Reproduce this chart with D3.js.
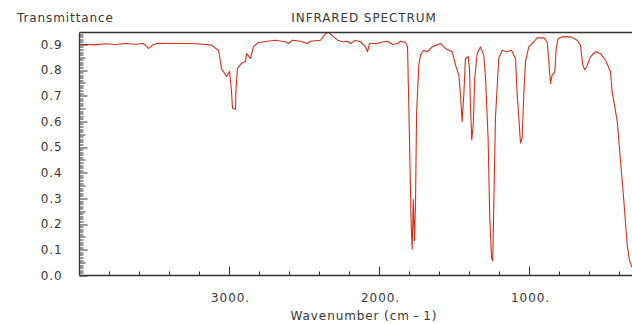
<!DOCTYPE html>
<html>
<head>
<meta charset="utf-8">
<script src="https://d3js.org/d3.v7.min.js"></script>
<style>
  body { margin: 0; background: #fff; }
  text { font-family: "DejaVu Sans", sans-serif; fill: #383838; letter-spacing: 0.9px; }
</style>
</head>
<body>
<svg id="drawing_region"></svg>
<script>
// spectrum (cm-1, transmittance)
const wavenumber = [
  4000, 3893, 3827, 3760, 3693, 3627, 3573, 3540, 3513, 3480, 3393, 3260, 3173,
  3120, 3073, 3053, 3020, 3000, 2987, 2980, 2960, 2957, 2947, 2920, 2893, 2887, 2860, 2840, 2807,
  2747, 2693, 2627, 2607, 2580, 2527, 2480, 2460, 2393, 2360, 2340, 2313, 2280, 2247, 2213, 2193,
  2160, 2127, 2093, 2080, 2067, 2013, 1973, 1947, 1913, 1880, 1860, 1827, 1813,
  1805, 1798, 1789, 1782, 1775, 1767, 1760, 1753, 1738, 1727, 1705, 1682, 1649, 1593, 1560,
  1515, 1493, 1471, 1460, 1449, 1438, 1427, 1409, 1400, 1393, 1385, 1375, 1365, 1349, 1327,
  1305, 1293, 1276, 1265, 1253, 1245, 1235, 1227, 1205, 1182, 1149, 1120, 1093, 1082, 1071,
  1060, 1049, 1038, 1027, 1005, 971, 949, 905, 882, 871, 860, 849, 831, 822, 809, 782, 727,
  682, 660, 645, 631, 615, 593, 560, 527, 493, 460, 449, 415, 393, 371, 349, 333, 315
];
const transmittance = [
  0.900, 0.898, 0.902, 0.899, 0.903, 0.900, 0.903, 0.884, 0.897, 0.904, 0.903, 0.903, 0.900,
  0.897, 0.876, 0.806, 0.775, 0.795, 0.720, 0.651, 0.647, 0.720, 0.806, 0.826, 0.833, 0.864, 0.845, 0.891, 0.907,
  0.912, 0.916, 0.910, 0.903, 0.916, 0.912, 0.903, 0.912, 0.916, 0.942, 0.946, 0.933, 0.916, 0.910, 0.912, 0.903,
  0.916, 0.910, 0.890, 0.871, 0.903, 0.903, 0.910, 0.912, 0.899, 0.903, 0.912, 0.907, 0.890,
  0.671, 0.470, 0.199, 0.102, 0.296, 0.136, 0.276, 0.625, 0.819, 0.858, 0.877, 0.871, 0.890, 0.903, 0.884,
  0.871, 0.819, 0.780, 0.703, 0.600, 0.703, 0.845, 0.852, 0.806, 0.651, 0.528, 0.586, 0.767, 0.864, 0.890,
  0.858, 0.767, 0.535, 0.225, 0.070, 0.057, 0.367, 0.612, 0.845, 0.877, 0.871, 0.877, 0.845, 0.703, 0.612,
  0.516, 0.535, 0.703, 0.832, 0.890, 0.910, 0.925, 0.925, 0.910, 0.832, 0.748, 0.780, 0.793, 0.884, 0.922, 0.929, 0.929,
  0.916, 0.897, 0.819, 0.800, 0.819, 0.852, 0.871, 0.864, 0.838, 0.793, 0.716, 0.600, 0.445, 0.290, 0.121, 0.057, 0.031
];

const xMajorTicks = [3000, 2000, 1000];
const xTickLabels = ["3000.", "2000.", "1000."];
const yMajorTicks = [0.0, 0.1, 0.2, 0.3, 0.4, 0.5, 0.6, 0.7, 0.8, 0.9];
const yTickLabels = ["0.0", "0.1", "0.2", "0.3", "0.4", "0.5", "0.6", "0.7", "0.8", "0.9"];

class SpectrumPlot {

    constructor( config, data ) {
        this.config = config;
        this.data = data;
        this.init();
    }

    init() {
        let self = this;

        self.svg = d3.select( self.config.parent )
            .attr('width', self.config.width)
            .attr('height', self.config.height);

        self.chart = self.svg.append('g')
            .attr('transform', `translate(${self.config.margin.left}, ${self.config.margin.top})`);

        self.inner_width = self.config.width - self.config.margin.left - self.config.margin.right;
        self.inner_height = self.config.height - self.config.margin.top - self.config.margin.bottom;

        // 4000 cm-1 sits on the left axis, the right side runs off the picture
        self.xscale = d3.scaleLinear()
            .domain( [4000, 300] )
            .range( [0, 555] );

        self.yscale = d3.scaleLinear()
            .domain( [0, 0.946] )
            .range( [self.inner_height, 0] );
    }

    render() {
        let self = this;
        const axisColor = "#333";

        self.chart.append("clipPath").attr("id", "plot_clip")
            .append("rect")
            .attr("x", 0).attr("y", 0)
            .attr("width", self.inner_width + 5)
            .attr("height", self.inner_height);

        const line = d3.line()
            .x( d => self.xscale( d.wn ) )
            .y( d => self.yscale( d.t ) );

        self.chart.append("path")
            .datum(self.data)
            .attr("clip-path", "url(#plot_clip)")
            .attr("fill", "none")
            .attr("stroke", "#d0301c")
            .attr("stroke-width", 1.1)
            .attr("stroke-linejoin", "round")
            .attr("d", line);

        // frame: left, bottom, top
        self.chart.append("line")
            .attr("x1", 0).attr("x2", 0)
            .attr("y1", 0).attr("y2", self.inner_height)
            .attr("stroke", axisColor).attr("stroke-width", 1.3);
        self.chart.append("line")
            .attr("x1", 0).attr("x2", self.inner_width + 5)
            .attr("y1", self.inner_height).attr("y2", self.inner_height)
            .attr("stroke", axisColor).attr("stroke-width", 1.3);
        self.chart.append("line")
            .attr("x1", 0).attr("x2", self.inner_width + 5)
            .attr("y1", 0).attr("y2", 0)
            .attr("stroke", axisColor).attr("stroke-width", 1.5);

        // x ticks: majors every 1000, minors every 200
        const xminor = d3.range(3800, 299, -200);
        self.chart.append("g").selectAll("line")
            .data(xminor)
            .join("line")
            .attr("x1", d => self.xscale(d)).attr("x2", d => self.xscale(d))
            .attr("y1", self.inner_height)
            .attr("y2", d => self.inner_height - (d % 1000 === 0 ? 9 : 4))
            .attr("stroke", axisColor).attr("stroke-width", 1);

        self.chart.append("g").selectAll("text")
            .data(xMajorTicks)
            .join("text")
            .attr("x", d => self.xscale(d) + 1)
            .attr("y", self.inner_height + 26)
            .attr("text-anchor", "middle")
            .attr("font-size", "12px")
            .text( (d, i) => xTickLabels[i] );

        // y ticks: 0.1 major, 0.05 mid, 0.01 minor
        const yminor = d3.range(0, 95).map( i => i / 100 );
        self.chart.append("g").selectAll("line")
            .data(yminor)
            .join("line")
            .attr("x1", 0)
            .attr("x2", (d, i) => i % 10 === 0 ? 8 : (i % 5 === 0 ? 6 : 4))
            .attr("y1", d => Math.round(self.yscale(d)) + 0.5)
            .attr("y2", d => Math.round(self.yscale(d)) + 0.5)
            .attr("stroke", axisColor).attr("stroke-width", 1);

        self.chart.append("g").selectAll("text")
            .data(yMajorTicks)
            .join("text")
            .attr("x", -17)
            .attr("y", d => self.yscale(d))
            .attr("dy", "0.35em")
            .attr("text-anchor", "end")
            .attr("font-size", "12px")
            .text( (d, i) => yTickLabels[i] );

        // labels
        self.svg.append("text")
            .attr("x", 17)
            .attr("y", 22)
            .attr("font-size", "12px")
            .text(self.config.ylabel);

        self.svg.append("text")
            .attr("x", 364)
            .attr("y", 22)
            .attr("text-anchor", "middle")
            .attr("font-size", "12px")
            .text(self.config.title);

        self.svg.append("text")
            .attr("x", 364)
            .attr("y", 320)
            .attr("text-anchor", "middle")
            .attr("font-size", "12px")
            .text(self.config.xlabel);
    }
}

const data = wavenumber.map( (w, i) => ({ wn: w, t: transmittance[i] }) );

const config = {
    parent: '#drawing_region',
    width: 632,
    height: 324,
    margin: {top: 32.5, right: 0, bottom: 48.5, left: 79.5},
    title: "INFRARED SPECTRUM",
    xlabel: "Wavenumber (cm\u2009\u2013\u20091)",
    ylabel: "Transmittance",
};

const plot = new SpectrumPlot( config, data );
plot.render();
</script>
</body>
</html>
